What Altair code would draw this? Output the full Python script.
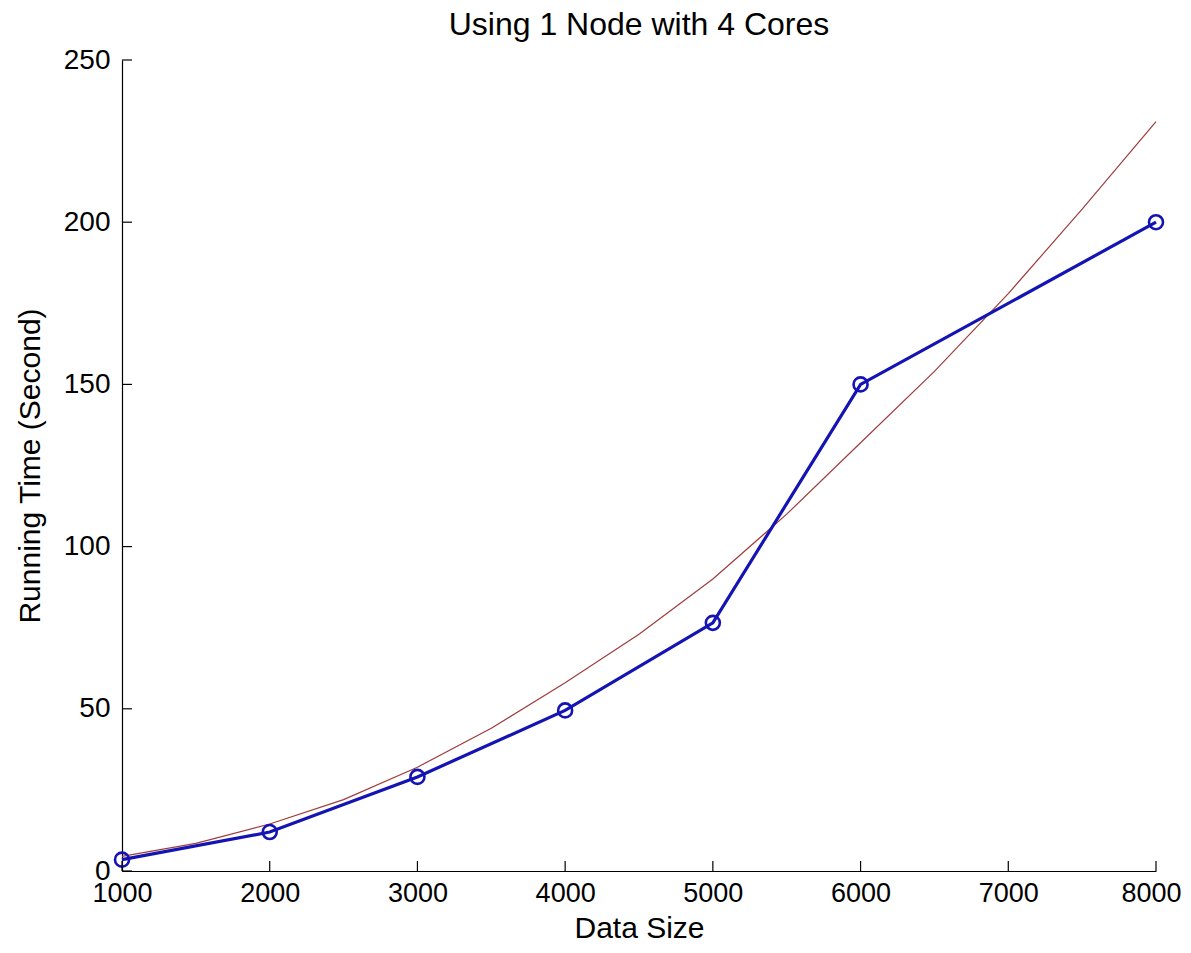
import altair as alt
import pandas as pd

# Measured data (blue, with circle markers)
data_size = [1000, 2000, 3000, 4000, 5000, 6000, 8000]
running_time = [3.5, 12, 29, 49.5, 76.5, 150, 200]

# Fitted curve (thin red line)
fit_size = [1000, 1500, 2000, 2500, 3000, 3500, 4000, 4500, 5000, 5500, 6000, 6500, 7000, 7500, 8000]
fit_time = [4.5, 8.5, 14.5, 22, 32, 44, 58, 73, 90, 110, 132, 154, 178, 204, 231]

x_ticks = [1000, 2000, 3000, 4000, 5000, 6000, 7000, 8000]
y_ticks = [0, 50, 100, 150, 200, 250]

TITLE = "Using 1 Node with 4 Cores"

W, H = 1034, 811
FONT = "Liberation Sans"

df_meas = pd.DataFrame({"x": data_size, "y": running_time})
df_fit = pd.DataFrame({"x": fit_size, "y": fit_time})
df_xt = pd.DataFrame({"x": x_ticks})
df_yt = pd.DataFrame({"y": y_ticks})

xscale = alt.Scale(domain=[1000, 8000], nice=False, zero=False)
yscale = alt.Scale(domain=[0, 250], nice=False)

xaxis = alt.Axis(values=x_ticks, title="Data Size", grid=False, ticks=False, tickSize=0,
                 labelPadding=9, domainColor="black", domainWidth=1.2,
                 labelFontSize=27, labelColor="black", labelFont=FONT,
                 labelOffset={"condition": {"test": "datum.value == 8000", "value": -5}, "value": 0},
                 titleFontSize=30, titleFont=FONT, titleFontWeight="normal",
                 titleColor="black", titlePadding=7, labelFlush=False, labelOverlap=False,
                 format="d")
yaxis = alt.Axis(values=y_ticks, title="Running Time (Second)", grid=False, ticks=False, tickSize=0,
                 labelPadding=12, domainColor="black", domainWidth=1.2,
                 labelFontSize=28, labelColor="black", labelFont=FONT,
                 titleFontSize=30, titleFont=FONT, titleFontWeight="normal",
                 titleColor="black", titlePadding=18, labelFlush=False, labelOverlap=False,
                 format="d")

X = alt.X("x:Q", scale=xscale, axis=xaxis)
Y = alt.Y("y:Q", scale=yscale, axis=yaxis)

fit = alt.Chart(df_fit).mark_line(color="#a03c3c", strokeWidth=1.2).encode(x=X, y=Y)

meas_line = alt.Chart(df_meas).mark_line(color="#1414b4", strokeWidth=3.2).encode(x=X, y=Y)
meas_pts = alt.Chart(df_meas).mark_point(shape="circle", filled=False, color="#1414b4",
                                          size=196, strokeWidth=2.6, opacity=1).encode(x=X, y=Y)

xt = alt.Chart(df_xt).mark_rule(color="black", strokeWidth=1.2).encode(
    x=alt.X("x:Q", scale=xscale, axis=xaxis), y=alt.value(H), y2=alt.value(H - 10))
yt = alt.Chart(df_yt).mark_rule(color="black", strokeWidth=1.2).encode(
    y=alt.Y("y:Q", scale=yscale, axis=yaxis), x=alt.value(0), x2=alt.value(10))

title = alt.Chart(pd.DataFrame({"t": [TITLE]})).mark_text(
    font=FONT, fontSize=32, color="black", align="center", baseline="alphabetic"
).encode(text="t:N", x=alt.value(W / 2), y=alt.value(-25))

chart = alt.layer(fit, meas_line, meas_pts, xt, yt, title).properties(
    width=W, height=H,
    autosize=alt.AutoSizeParams(type="none"),
    padding={"left": 114, "top": 52, "right": 27, "bottom": 74},
    background="white",
).configure_view(strokeWidth=0, stroke="transparent")

chart.save("out.html", embed_options={"renderer": "svg", "actions": False})
